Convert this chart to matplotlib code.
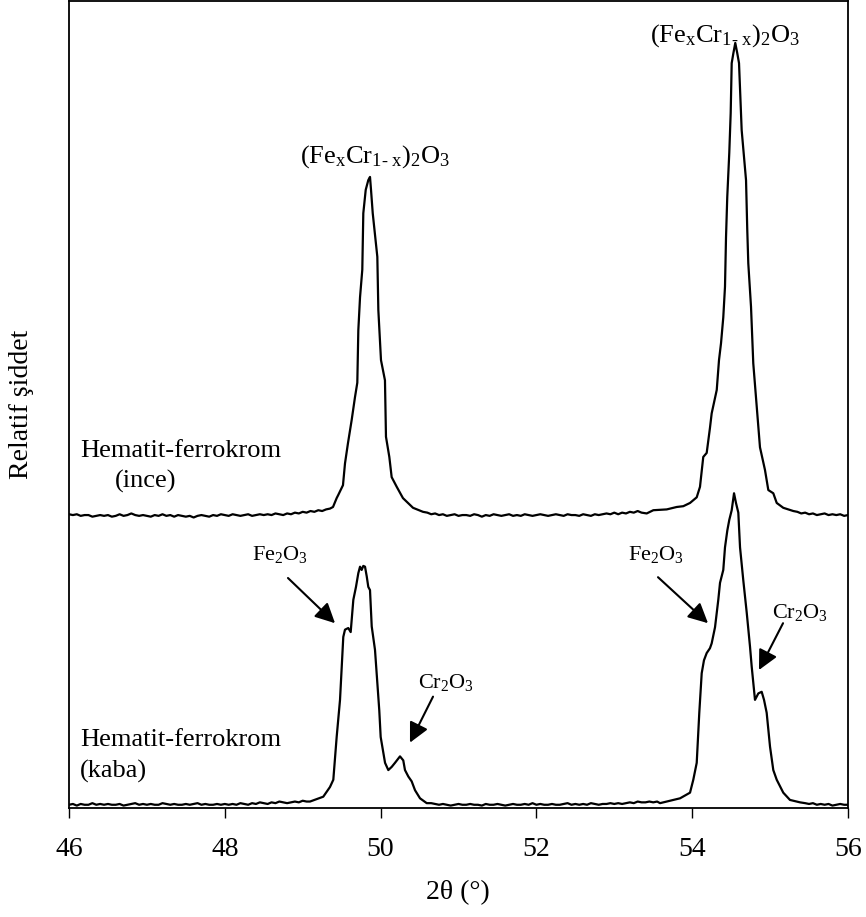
import numpy as np
import matplotlib
matplotlib.use('Agg')
import matplotlib.pyplot as plt

plt.rcParams['font.family'] = ['Liberation Serif', 'DejaVu Serif']
plt.rcParams['mathtext.fontset'] = 'custom'
plt.rcParams['mathtext.rm'] = 'Liberation Serif'
plt.rcParams['mathtext.it'] = 'Liberation Serif:italic'

# --- hematit-ferrokrom (ince), already shifted up ---
ince_base1 = [364, 363, 364, 362, 363, 363, 361, 362, 363, 362,
              363, 361, 362, 364, 362, 363, 365, 363, 362, 363,
              362, 361, 363, 362, 364, 362, 363, 361, 363, 362,
              361, 362, 360, 362, 363, 362, 361, 363, 362, 364,
              363, 362, 364, 363, 362, 363, 364, 362, 363, 364,
              363, 364, 363, 365, 364, 363, 365, 364, 366, 365,
              367, 366, 368, 367, 369, 368, 370, 371]          # 46.00 .. 49.35
ince_p1_x = [49.389, 49.436, 49.457, 49.517, 49.543, 49.581, 49.629, 49.671, 49.701,
             49.714, 49.736, 49.765, 49.778, 49.809, 49.842, 49.864, 49.877, 49.899,
             49.958, 49.971, 50.005, 50.056, 50.069, 50.112, 50.142, 50.207, 50.287,
             50.416, 50.544]
ince_p1_y = [373, 384, 388, 400, 427, 452, 481, 509, 527,
             592, 633, 667, 737, 766, 778, 782, 766, 737,
             683, 617, 555, 530, 460, 435, 410, 398, 384,
             372, 367]
ince_base2 = [366, 364, 365, 363, 364, 362, 363, 364, 362, 363,
              363, 362, 364, 363, 361, 363, 362, 364, 363, 362,
              363, 364, 362, 363, 362, 364, 363, 362, 363, 364,
              363, 362, 363, 364, 363, 362, 364, 363, 363, 362,
              364, 363, 362, 364, 363, 364, 365, 364, 366, 364,
              366, 365, 367, 366, 368, 366]                    # 50.60 .. 53.35
ince_p2_x = [53.416, 53.501, 53.673, 53.801, 53.886, 53.972, 54.058, 54.100, 54.142,
             54.186, 54.228, 54.250, 54.315, 54.344, 54.370, 54.399, 54.421, 54.434,
             54.450, 54.476, 54.494, 54.507, 54.528, 54.553, 54.579, 54.601, 54.635,
             54.691, 54.707, 54.720, 54.755, 54.784, 54.828, 54.870, 54.934, 54.977,
             55.041, 55.085, 55.169, 55.298]
ince_p2_y = [365, 369, 370, 373, 374, 378, 385, 398, 435,
             440, 471, 489, 518, 555, 576, 608, 646, 707,
             757, 812, 861, 923, 935, 948, 935, 923, 840,
             778, 716, 675, 621, 551, 497, 447, 419, 394,
             390, 378, 372, 368]
ince_base3 = [367, 365, 366, 364, 365, 363, 364, 365, 363, 364, 363, 364, 362, 363]  # 55.35 .. 56.00

# --- hematit-ferrokrom (kaba) ---
kaba_base1 = [4, 5, 3, 5, 4, 4, 6, 4, 5, 4,
              5, 4, 4, 5, 3, 4, 5, 6, 4, 5,
              4, 5, 4, 4, 6, 5, 4, 5, 4, 4,
              5, 4, 5, 6, 4, 5, 4, 4, 5, 4,
              5, 4, 5, 4, 6, 5, 4, 6, 5, 7,
              6, 5, 7, 6, 8, 7, 6, 7, 8, 7, 9, 8]               # 46.00 .. 49.05
kaba_p1_x = [49.094, 49.264, 49.350, 49.393, 49.436, 49.479, 49.501, 49.521, 49.543,
             49.585, 49.616, 49.629, 49.650, 49.684, 49.714, 49.736, 49.757, 49.778,
             49.800, 49.822, 49.842, 49.864, 49.886, 49.928, 49.958, 49.983, 50.001,
             50.057, 50.099, 50.143, 50.185, 50.249, 50.291, 50.313, 50.356, 50.399,
             50.442, 50.506, 50.592]
kaba_p1_y = [8, 14, 26, 35, 88, 134, 175, 212, 221,
             223, 218, 233, 258, 274, 291, 299, 295, 300,
             299, 287, 274, 270, 225, 196, 155, 121, 88,
             56, 47, 51, 56, 64, 59, 47, 39, 33,
             22, 12, 6]
kaba_base2 = [6, 5, 4, 5, 4, 3, 4, 5, 4, 4,
              5, 4, 4, 3, 5, 4, 4, 5, 4, 3,
              4, 5, 4, 4, 5, 4, 6, 4, 5, 4,
              4, 5, 4, 4, 5, 6, 4, 5, 4, 5,
              4, 6, 5, 4, 5, 5, 6, 5, 6, 5,
              6, 7, 6, 8, 7, 7, 8, 7, 8]                        # 50.65 .. 53.55
kaba_p2_x = [53.587, 53.844, 53.972, 54.014, 54.058, 54.091, 54.122, 54.151, 54.186,
             54.228, 54.250, 54.293, 54.335, 54.357, 54.399, 54.421, 54.451, 54.476,
             54.507, 54.537, 54.562, 54.592, 54.614, 54.656, 54.700, 54.742, 54.764,
             54.784, 54.806, 54.849, 54.892, 54.922, 54.956, 54.999, 55.041, 55.085,
             55.169, 55.255, 55.384]
kaba_p2_y = [6, 12, 19, 35, 56, 118, 167, 183, 192,
             198, 204, 224, 258, 279, 295, 323, 344, 357,
             369, 390, 378, 366, 323, 282, 242, 200, 175,
             155, 134, 142, 144, 134, 118, 76, 47, 35,
             19, 10, 7]
kaba_base3 = [6, 5, 6, 4, 5, 4, 5, 3, 4, 5, 4, 4]               # 55.45 .. 56.00

x_ticks = [46, 48, 50, 52, 54, 56]

ince_x = np.concatenate([np.round(np.arange(46.0, 49.351, 0.05), 2), ince_p1_x,
                         np.round(np.arange(50.60, 53.351, 0.05), 2), ince_p2_x,
                         np.round(np.arange(55.35, 56.001, 0.05), 2)])
ince_y = np.concatenate([ince_base1, ince_p1_y, ince_base2, ince_p2_y, ince_base3])
kaba_x = np.concatenate([np.round(np.arange(46.0, 49.051, 0.05), 2), kaba_p1_x,
                         np.round(np.arange(50.65, 53.551, 0.05), 2), kaba_p2_x,
                         np.round(np.arange(55.45, 56.001, 0.05), 2)])
kaba_y = np.concatenate([kaba_base1, kaba_p1_y, kaba_base2, kaba_p2_y, kaba_base3])

fig = plt.figure(figsize=(8.66, 9.17), dpi=100)
ax = fig.add_axes([69 / 866, 1 - 808 / 917, 779 / 866, 807 / 917])

ax.plot(ince_x, ince_y, color='black', lw=1.6)
ax.plot(kaba_x, kaba_y, color='black', lw=1.6)

ax.set_xlim(46, 56)
ax.set_ylim(0, 1000)
ax.set_xticks(x_ticks)
ax.set_xticklabels([str(t) for t in x_ticks])
ax.set_yticks([])
ax.tick_params(axis='x', direction='out', length=7, width=1, labelsize=20, pad=14)
for s in ax.spines.values():
    s.set_linewidth(1.3)

fs_big = 19
fs_small = 16
formula = (r'(Fe$_\mathregular{x}$Cr$_{\mathregular{1}\text{- }\mathregular{x}}$)'
           r'$_\mathregular{2}$O$_\mathregular{3}$')
ax.text(49.93, 800, formula, fontsize=fs_big, ha='center', va='baseline')
ax.text(54.42, 950, formula, fontsize=fs_big, ha='center', va='baseline')

ax.text(46.14, 442, 'Hematit-ferrokrom', fontsize=fs_big, ha='left', va='center')
ax.text(46.59, 405, '(ince)', fontsize=fs_big, ha='left', va='center')
ax.text(46.14, 84, 'Hematit-ferrokrom', fontsize=fs_big, ha='left', va='center')
ax.text(46.14, 45, '(kaba)', fontsize=fs_big, ha='left', va='center')

fe = r'Fe$_\mathregular{2}$O$_\mathregular{3}$'
cr = r'Cr$_\mathregular{2}$O$_\mathregular{3}$'
ax.text(48.71, 307, fe, fontsize=fs_small, ha='center', va='baseline')
ax.text(53.535, 307, fe, fontsize=fs_small, ha='center', va='baseline')
ax.text(50.84, 149, cr, fontsize=fs_small, ha='center', va='baseline')
ax.text(55.38, 235, cr, fontsize=fs_small, ha='center', va='baseline')

arrow = dict(arrowstyle='-|>', color='black', lw=1.5, mutation_scale=30, shrinkA=0, shrinkB=0)
ax.annotate('', xy=(49.415, 229), xytext=(48.811, 285), arrowprops=arrow)
ax.annotate('', xy=(50.377, 81), xytext=(50.673, 138), arrowprops=arrow)
ax.annotate('', xy=(54.203, 229), xytext=(53.561, 286), arrowprops=arrow)
ax.annotate('', xy=(54.857, 171), xytext=(55.166, 229), arrowprops=arrow)

fig.text(458 / 866, 1 - 893 / 917, '2θ (°)', fontsize=20, ha='center', va='center')
fig.text(22 / 866, 1 - 404 / 917, 'Relatif şiddet', fontsize=20, rotation=90,
         ha='center', va='center')

fig.savefig('out.png', dpi=100)
